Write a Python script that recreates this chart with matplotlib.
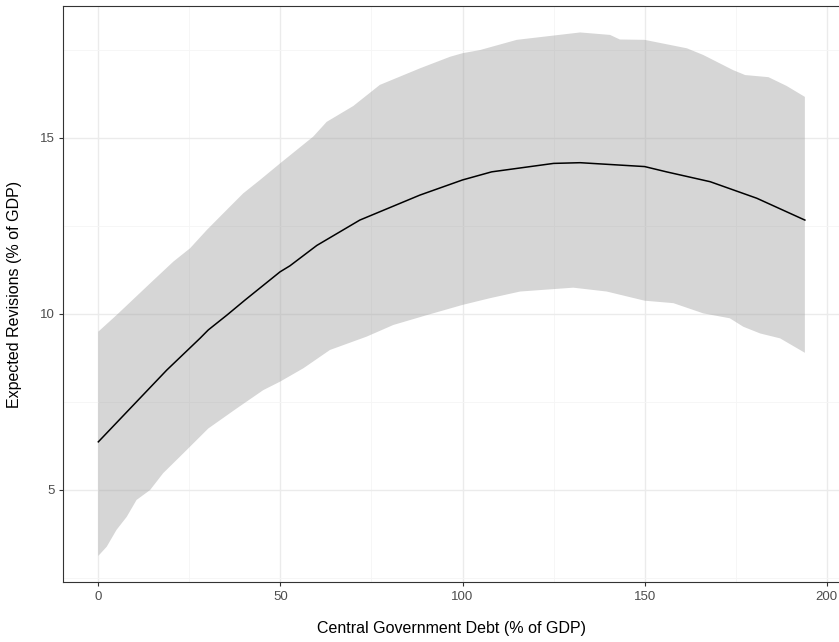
import numpy as np
import matplotlib
matplotlib.use("Agg")
import matplotlib.pyplot as plt
from matplotlib.ticker import MultipleLocator

plt.rcParams["font.family"] = ["Liberation Sans", "DejaVu Sans"]

# fitted curve
line_x = [0, 18.8, 27.9, 30.2, 35.3, 40.3, 49.9, 52.6, 60, 71.8, 88.3, 100, 108,
          125, 132.3, 150, 156, 168, 180.8, 194]
line_y = [6.36, 8.40, 9.30, 9.54, 9.96, 10.39, 11.19, 11.36, 11.94, 12.66, 13.37,
          13.80, 14.03, 14.27, 14.29, 14.18, 14.03, 13.75, 13.28, 12.66]

# confidence band edges
upper_x = [0, 5, 14.2, 20.6, 25.2, 29.8, 34.3, 39.8, 44.4, 49.9, 59, 62.7, 70,
           77.3, 88.3, 96.6, 100, 104.8, 114.9, 132.3, 140.5, 143.2, 150, 161.6,
           166.1, 174.3, 177.6, 184, 189, 194]
upper_y = [9.49, 9.96, 10.86, 11.48, 11.86, 12.38, 12.85, 13.42, 13.80, 14.27,
           15.03, 15.45, 15.90, 16.50, 16.97, 17.30, 17.40, 17.49, 17.78, 17.99,
           17.92, 17.79, 17.78, 17.54, 17.35, 16.92, 16.78, 16.72, 16.47, 16.16]
lower_x = [0, 2.3, 5, 7.8, 10.5, 14.2, 17.8, 23.3, 30.2, 38.0, 45.3, 49.9, 56.3,
           63.6, 73.7, 81, 90.2, 100, 107.5, 115.8, 130.4, 139.6, 150, 157.9,
           166.1, 173.4, 177.1, 181.7, 187.2, 194]
lower_y = [3.12, 3.38, 3.86, 4.23, 4.71, 4.99, 5.47, 6.03, 6.74, 7.31, 7.83,
           8.07, 8.45, 8.97, 9.35, 9.68, 9.96, 10.25, 10.44, 10.63, 10.74,
           10.63, 10.37, 10.30, 10.01, 9.87, 9.63, 9.44, 9.30, 8.89]

W, H = 839, 642
fig = plt.figure(figsize=(W / 100, H / 100), dpi=100)
ax = fig.add_axes([63.0 / W, (H - 582.3) / H, (840.2 - 63.0) / W, (582.3 - 5.7) / H])

ax.set_xlim(-9.7, 203.7)
ax.set_ylim(2.37, 18.75)
ax.xaxis.set_major_locator(MultipleLocator(50))
ax.xaxis.set_minor_locator(MultipleLocator(25))
ax.yaxis.set_major_locator(MultipleLocator(5))
ax.yaxis.set_minor_locator(MultipleLocator(2.5))
ax.grid(which="major", color="#EBEBEB", lw=1.0, zorder=0)
ax.grid(which="minor", color="#F5F5F5", lw=0.6, zorder=0)
ax.set_axisbelow(True)

poly_x = np.concatenate([upper_x, lower_x[::-1]])
poly_y = np.concatenate([upper_y, lower_y[::-1]])
ax.fill(poly_x, poly_y, color="#999999", alpha=0.4, lw=0, zorder=2)
ax.plot(line_x, line_y, color="black", lw=1.1, zorder=3)

for s in ax.spines.values():
    s.set_color("#333333")
    s.set_linewidth(0.8)
ax.tick_params(which="major", length=3, width=0.8, color="#333333",
               labelcolor="#4D4D4D", labelsize=9.5, pad=3)
ax.tick_params(which="minor", length=0)

ax.set_xlabel("Central Government Debt (% of GDP)", fontsize=11.5, labelpad=13)
ax.set_ylabel("Expected Revisions (% of GDP)", fontsize=11.5, labelpad=13)

fig.savefig("out.png", dpi=100)
